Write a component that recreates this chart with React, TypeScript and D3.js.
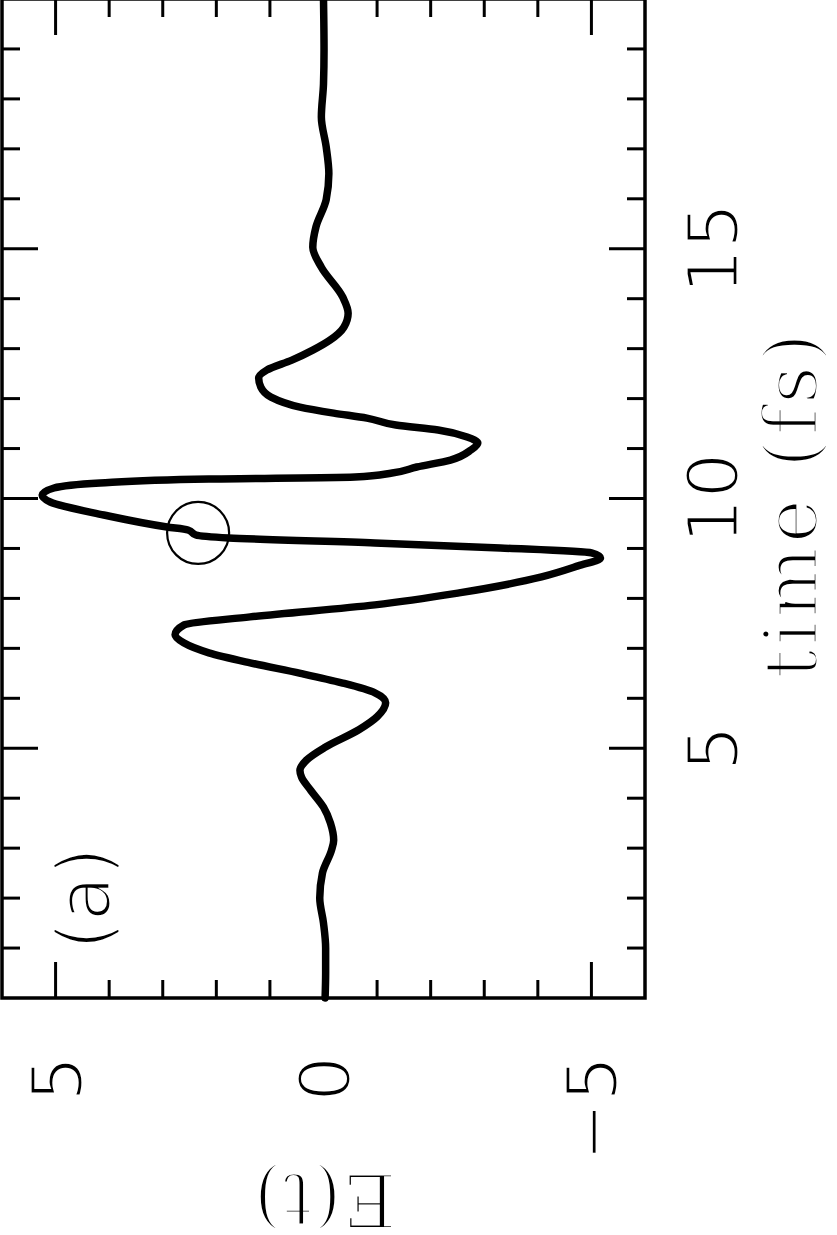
import React from "react";
import * as d3 from "d3";

const timeValues = [0, 0.5, 1.0, 1.5, 2.0, 2.5, 2.96, 3.16, 3.5, 3.82, 4.16, 4.42, 4.56, 4.76, 5.02, 5.37, 5.63, 5.91, 6.11, 6.31, 6.5, 6.71, 6.91, 7.11, 7.27, 7.47, 7.63, 7.87, 8.11, 8.43, 8.65, 8.81, 8.91, 9.01, 9.11, 9.21, 9.27, 9.37, 9.43, 9.67, 9.93, 10.07, 10.21, 10.31, 10.39, 10.43, 10.51, 10.63, 10.77, 10.97, 11.11, 11.23, 11.37, 11.47, 11.61, 11.71, 11.83, 12.03, 12.23, 12.41, 12.57, 12.77, 12.97, 13.17, 13.43, 13.71, 14.03, 14.63, 15.03, 15.44, 15.98, 16.5, 17.04, 17.64, 18.3, 18.98, 20];
const fieldValues = [-0.03, -0.04, -0.04, 0.0, 0.07, 0.02, -0.15, -0.19, -0.13, 0.0, 0.24, 0.41, 0.44, 0.32, -0.03, -0.66, -1.0, -1.16, -0.96, -0.34, 0.43, 1.37, 2.14, 2.61, 2.77, 2.6, 1.37, -0.96, -2.53, -4.07, -4.75, -5.17, -5.0, -3.3, -0.96, 1.77, 2.38, 2.53, 2.92, 4.1, 5.1, 5.25, 5.03, 4.17, 2.14, -0.59, -1.28, -1.74, -2.37, -2.75, -2.88, -2.68, -2.14, -1.35, -0.81, -0.19, 0.44, 0.98, 1.17, 1.21, 1.06, 0.59, 0.2, -0.12, -0.38, -0.46, -0.36, 0.04, 0.2, 0.14, -0.05, -0.1, -0.05, 0.04, 0.0, -0.01, 0];

const timeTicks = d3.range(1, 20);
const timeMajor = [5, 10, 15];
const timeLabels = ["5", "10", "15"];
const fieldTicks = d3.range(-5, 6);
const fieldMajor = [-5, 0, 5];
const fieldLabels = ["5", "0", "\u22125"];
const fieldLabelValues = [5, 0, -5];
const markerPoint = { t: 9.31, e: 2.34 };

const W = 999;
const H = 643;

export default function App() {
  const x = d3.scaleLinear().domain([0, 20]).range([0, W]);
  const y = d3.scaleLinear().domain([6, -6]).range([0, H]);
  const pts: [number, number][] = timeValues.map((t, i) => [t, fieldValues[i]]);
  const line = d3
    .line<[number, number]>()
    .x((d) => x(d[0]))
    .y((d) => y(d[1]))
    .curve(d3.curveMonotoneX);

  const thin = { stroke: "#fff", strokeWidth: 3.2, paintOrder: "normal" } as any;
  const minor = 18;
  const major = 36;

  return (
    <svg
      width={837}
      height={1235}
      style={{ position: "absolute", left: 0, top: 0, background: "#fff" }}
    >
      <rect x={0} y={0} width={837} height={1235} fill="#fff" />
      <g transform="translate(2,998) rotate(-90)">
        {timeTicks.map((t) => {
          const len = timeMajor.includes(t) ? major : minor;
          return (
            <g key={"t" + t} stroke="#000" strokeWidth={3}>
              <line x1={x(t)} x2={x(t)} y1={H} y2={H - len} />
              <line x1={x(t)} x2={x(t)} y1={0} y2={len} />
            </g>
          );
        })}
        {fieldTicks.map((v) => {
          const len = fieldMajor.includes(v) ? major : minor;
          return (
            <g key={"e" + v} stroke="#000" strokeWidth={3}>
              <line x1={0} x2={len} y1={y(v)} y2={y(v)} />
              <line x1={W} x2={W - len} y1={y(v)} y2={y(v)} />
            </g>
          );
        })}
        <path
          d={line(pts) || ""}
          fill="none"
          stroke="#000"
          strokeWidth={7.5}
          strokeLinejoin="round"
          strokeLinecap="round"
        />
        <circle
          cx={x(markerPoint.t)}
          cy={y(markerPoint.e)}
          r={31}
          fill="none"
          stroke="#000"
          strokeWidth={2.2}
        />
        <rect x={0} y={0} width={W} height={H} fill="none" stroke="#000" strokeWidth={3.5} />

        {timeMajor.map((t, i) => (
          <text
            key={"tl" + t}
            x={x(t)}
            y={736}
            textAnchor="middle"
            fontFamily="DejaVu Sans"
            fontSize={72}
            fill="#000"
            {...thin}
          >
            {timeLabels[i]}
          </text>
        ))}
        {fieldLabelValues.map((v, i) => (
          <text
            key={"el" + v}
            x={-58}
            y={y(v) + 26}
            textAnchor="end"
            fontFamily="DejaVu Sans"
            fontSize={72}
            fill="#000"
            {...thin}
          >
            {fieldLabels[i]}
          </text>
        ))}
        <text
          x={492}
          y={815}
          textAnchor="middle"
          fontFamily="DejaVu Serif"
          fontSize={75}
          textLength={346}
          lengthAdjust="spacing"
          fill="#000"
          {...thin}
        >
          time (fs)
        </text>
        <text
          transform={`translate(-176,${323}) rotate(-90)`}
          textAnchor="middle"
          fontFamily="DejaVu Serif"
          fontSize={75}
          fill="#000"
          {...thin}
        >
          E(t)
        </text>
        <text
          x={48}
          y={108}
          fontFamily="DejaVu Sans"
          fontSize={74}
          fill="#000"
          {...thin}
        >
          (a)
        </text>
      </g>
    </svg>
  );
}
